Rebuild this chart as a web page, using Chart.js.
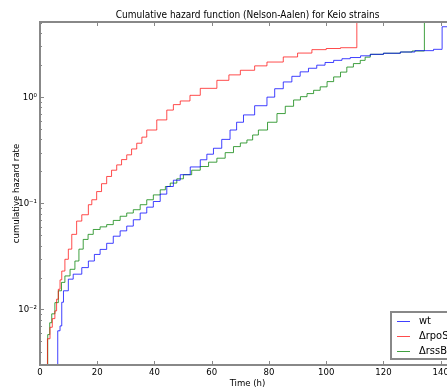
<!DOCTYPE html>
<html lang="en">
<head>
    <meta charset="UTF-8">
    <title>Cumulative hazard</title>
    <script src="https://cdn.jsdelivr.net/npm/chart.js"></script>
    <style>
        body {
            margin: 0;
            background: #ffffff;
            overflow: hidden;
        }

        .chart-box {
            width: 494px;
            height: 389px;
        }
    </style>
</head>
<body>
    <div class="chart-box">
        <canvas id="hazardChart"></canvas>
    </div>

    <script>
        // Nelson-Aalen estimates (time in hours, cumulative hazard)
        const labels = ['wt', '\u0394rpoS', '\u0394rssB'];

        const tWt = [6.2, 6.2, 7.0, 7.6, 8.2, 9.9, 11.6, 14.6, 16.9, 19.0, 21.0, 23.3, 25.6, 28.0, 30.3, 32.6, 35.0, 37.3, 39.6, 42.0, 44.3, 46.6, 49.0, 52.5, 56.0, 58.3, 60.6, 63.5, 66.4, 68.7, 71.1, 75.0, 79.3, 82.0, 85.0, 88.0, 90.9, 93.8, 96.7, 99.6, 102.6, 105.5, 108.4, 112.0, 115.4, 120.0, 125.9, 131.0, 137.5, 140.5, 140.5, 142.5];
        const hWt = [0.001, 0.0063, 0.0070, 0.0117, 0.015, 0.0193, 0.0215, 0.0248, 0.0286, 0.033, 0.0368, 0.042, 0.049, 0.055, 0.061, 0.070, 0.081, 0.092, 0.104, 0.122, 0.144, 0.165, 0.186, 0.22, 0.257, 0.29, 0.33, 0.40, 0.49, 0.58, 0.68, 0.83, 1.0, 1.2, 1.39, 1.57, 1.73, 1.87, 2.0, 2.12, 2.22, 2.30, 2.36, 2.45, 2.53, 2.59, 2.66, 2.74, 2.82, 2.86, 4.6, 10];

        const tRpoS = [2.6, 2.6, 3.5, 4.3, 5.2, 5.8, 6.4, 7.0, 7.6, 8.7, 9.9, 11.1, 12.8, 14.6, 16.9, 18.1, 19.8, 21.5, 23.3, 25.0, 26.8, 28.5, 30.3, 32.0, 33.8, 35.6, 37.3, 40.8, 44.3, 46.6, 49.0, 52.4, 56.0, 61.8, 66.0, 70.0, 75.0, 79.3, 85.0, 90.0, 95.0, 100.0, 105.0, 110.7, 110.7];
        const hRpoS = [0.001, 0.0053, 0.0068, 0.0082, 0.0097, 0.0125, 0.0155, 0.019, 0.023, 0.0297, 0.037, 0.051, 0.068, 0.078, 0.097, 0.108, 0.129, 0.153, 0.179, 0.205, 0.23, 0.258, 0.286, 0.325, 0.368, 0.42, 0.49, 0.61, 0.755, 0.85, 0.92, 1.04, 1.21, 1.44, 1.62, 1.79, 1.97, 2.14, 2.39, 2.6, 2.80, 2.87, 2.92, 2.96, 10];

        const tRssB = [2.7, 2.7, 3.4, 4.1, 5.2, 6.4, 7.5, 8.7, 10.5, 12.2, 13.6, 15.1, 16.8, 18.6, 21.0, 23.3, 25.6, 28.0, 30.3, 32.6, 35.0, 37.3, 39.6, 42.0, 43.8, 45.5, 47.8, 50.1, 53.0, 56.0, 58.9, 61.8, 64.7, 67.6, 70.0, 72.3, 74.3, 76.3, 79.5, 82.8, 85.7, 88.6, 91.0, 93.3, 95.6, 97.9, 100.3, 102.6, 105.0, 107.2, 109.5, 111.9, 113.6, 115.4, 120.0, 125.9, 130.0, 134.3, 134.3];
        const hRssB = [0.001, 0.0058, 0.0075, 0.0091, 0.0116, 0.015, 0.018, 0.0207, 0.0239, 0.0286, 0.037, 0.0457, 0.051, 0.0567, 0.060, 0.063, 0.069, 0.0755, 0.081, 0.087, 0.097, 0.108, 0.12, 0.134, 0.144, 0.155, 0.17, 0.186, 0.205, 0.222, 0.244, 0.266, 0.30, 0.342, 0.37, 0.395, 0.44, 0.49, 0.58, 0.70, 0.82, 0.94, 1.01, 1.08, 1.16, 1.25, 1.40, 1.55, 1.72, 1.92, 2.07, 2.22, 2.38, 2.53, 2.59, 2.66, 2.72, 2.76, 10];

        const xTicks = [0, 20, 40, 60, 80, 100, 120, 140];
        const yMajor = [0.01, 0.1, 1];
        const yLabels = ['10\u207B\u00B2', '10\u207B\u00B9', '10\u2070'];

        const FONT = "'DejaVu Sans Condensed', 'Liberation Sans', sans-serif";
        const colors = ['rgba(0,0,255,0.75)', 'rgba(255,0,0,0.7)', 'rgba(0,128,0,0.75)'];

        function toPoints(ts, hs) {
            return ts.map((t, i) => ({ x: t, y: hs[i] }));
        }

        // every log tick (2..9 x 10^n) in range, majors get labels
        function logTicks(min, max) {
            const out = [];
            for (let e = -3; e <= 1; e++) {
                for (let m = 1; m <= 9; m++) {
                    const v = m * Math.pow(10, e);
                    if (v >= min && v <= max) out.push({ value: v, major: m === 1 });
                }
            }
            return out;
        }

        // matplotlib-ish frame, inward ticks and boxed legend
        const framePlugin = {
            id: 'frame',
            afterDraw(chart) {
                const { ctx, chartArea: a, scales } = chart;
                ctx.save();
                ctx.strokeStyle = '#888';
                ctx.lineWidth = 1;
                scales.x.ticks.forEach(t => {
                    const px = Math.round(scales.x.getPixelForValue(t.value)) + 0.5;
                    ctx.beginPath();
                    ctx.moveTo(px, a.bottom); ctx.lineTo(px, a.bottom - 4);
                    ctx.moveTo(px, a.top); ctx.lineTo(px, a.top + 4);
                    ctx.stroke();
                });
                scales.y.ticks.forEach(t => {
                    const py = Math.round(scales.y.getPixelForValue(t.value)) + 0.5;
                    const len = t.major ? 4 : 2;
                    ctx.beginPath();
                    ctx.moveTo(a.left, py); ctx.lineTo(a.left + len, py);
                    ctx.moveTo(a.right, py); ctx.lineTo(a.right - len, py);
                    ctx.stroke();
                });
                ctx.lineWidth = 2;
                ctx.strokeRect(a.left, a.top, a.right - a.left, a.bottom - a.top);

                // legend, lower right
                const w = 62, h = 47;
                const lx = a.right - 2 - w, ly = a.bottom - 6 - h;
                ctx.fillStyle = '#fff';
                ctx.fillRect(lx, ly, w, h);
                ctx.strokeRect(lx, ly, w, h);
                ctx.font = '11px ' + FONT;
                ctx.textBaseline = 'middle';
                chart.data.datasets.forEach((ds, i) => {
                    const y = ly + 9 + i * 15;
                    ctx.strokeStyle = ds.borderColor;
                    ctx.lineWidth = 1;
                    ctx.beginPath();
                    ctx.moveTo(lx + 6, y + 0.5);
                    ctx.lineTo(lx + 19, y + 0.5);
                    ctx.stroke();
                    ctx.fillStyle = '#000';
                    ctx.fillText(ds.label, lx + 28, y);
                });
                ctx.restore();
            }
        };

        const ctx = document.getElementById('hazardChart').getContext('2d');
        new Chart(ctx, {
            type: 'line',
            data: {
                datasets: [
                    { label: labels[0], data: toPoints(tWt, hWt) },
                    { label: labels[1], data: toPoints(tRpoS, hRpoS) },
                    { label: labels[2], data: toPoints(tRssB, hRssB) }
                ].map((d, i) => Object.assign(d, {
                    borderColor: colors[i],
                    borderWidth: 1,
                    pointRadius: 0,
                    stepped: 'before',
                    fill: false
                }))
            },
            options: {
                responsive: true,
                maintainAspectRatio: false,
                animation: false,
                layout: { padding: { left: 0, right: 39, top: 0, bottom: 0 } },
                plugins: {
                    legend: { display: false },
                    tooltip: { enabled: false },
                    title: {
                        display: true,
                        fullSize: false,
                        text: 'Cumulative hazard function (Nelson-Aalen) for Keio strains',
                        color: '#000',
                        font: { family: FONT, size: 10, weight: 'normal' },
                        padding: { top: 9, bottom: 1 }
                    }
                },
                scales: {
                    x: {
                        type: 'linear',
                        min: 0,
                        max: 145,
                        grid: { display: false, drawTicks: false },
                        border: { display: false },
                        afterBuildTicks: s => { s.ticks = xTicks.map(v => ({ value: v })); },
                        afterFit: s => { s.height = 24; },
                        ticks: {
                            autoSkip: false,
                            maxRotation: 0,
                            padding: 2,
                            color: '#000',
                            font: { family: FONT, size: 9.5 }
                        },
                        title: {
                            display: true,
                            text: 'Time (h)',
                            color: '#000',
                            font: { family: FONT, size: 9.5 },
                            padding: { top: 0, bottom: 0 }
                        }
                    },
                    y: {
                        type: 'logarithmic',
                        min: 0.003,
                        max: 5.1,
                        grid: { display: false, drawTicks: false },
                        border: { display: false },
                        afterBuildTicks: s => { s.ticks = logTicks(0.003, 5.1); },
                        afterFit: s => { s.width = 40; },
                        ticks: {
                            autoSkip: false,
                            padding: 3,
                            color: '#000',
                            font: { family: FONT, size: 9.5 },
                            callback: v => {
                                const k = yMajor.findIndex(m => Math.abs(m - v) < m * 1e-6);
                                return k >= 0 ? yLabels[k] : '';
                            }
                        },
                        title: {
                            display: true,
                            text: 'cumulative hazard rate',
                            color: '#000',
                            font: { family: FONT, size: 9.5 },
                            padding: { top: 11, bottom: 0 }
                        }
                    }
                }
            },
            plugins: [framePlugin]
        });
    </script>
</body>
</html>
